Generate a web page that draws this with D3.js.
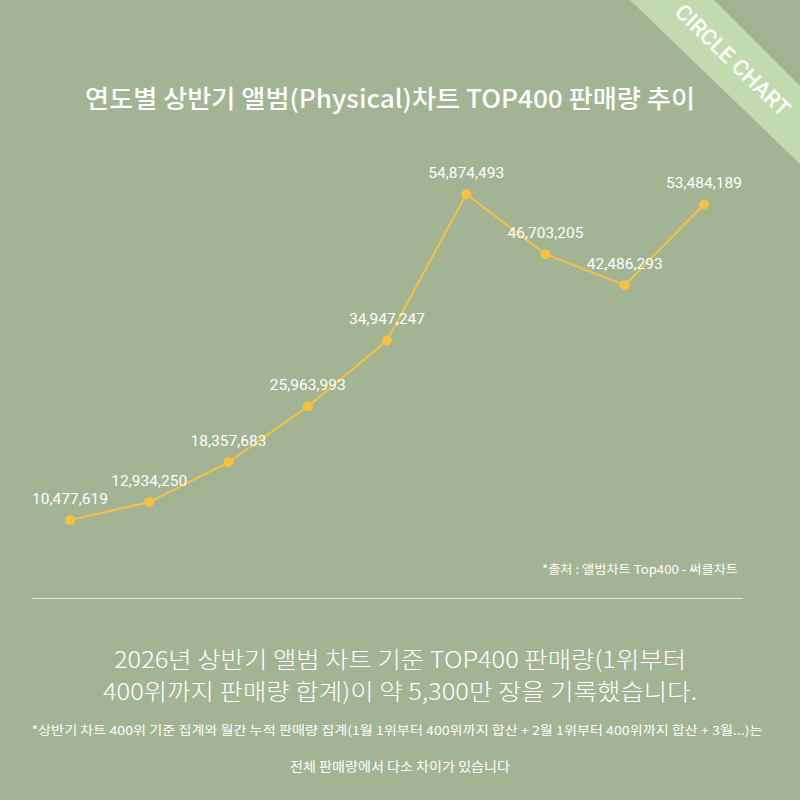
<!DOCTYPE html>
<html>
<head>
<meta charset="utf-8">
<script src="https://cdn.jsdelivr.net/npm/d3@7"></script>
<style>
  html, body { margin: 0; padding: 0; background: #a2b493; }
  svg text { font-family: "Noto Sans CJK KR", "Noto Sans", sans-serif; fill: #ffffff; }
</style>
</head>
<body>
<div id="chart"></div>
<script>
// half-year album chart TOP400 sales, one point per year (no axis labels shown)
var years = ['2018', '2019', '2020', '2021', '2022', '2023', '2024', '2025', '2026'];
var sales = [10477619, 12934250, 18357683, 25963993, 34947247, 54874493, 46703205, 42486293, 53484189];

var titleText = '연도별 상반기 앨범(Physical)차트 TOP400 판매량 추이';
var sourceText = '*출처 : 앨범차트 Top400 - 써클차트';
var summaryLines = ['2026년 상반기 앨범 차트 기준 TOP400 판매량(1위부터', '400위까지 판매량 합계)이 약 5,300만 장을 기록했습니다.'];
var noteLines = ['*상반기 차트 400위 기준 집계와 월간 누적 판매량 집계(1월 1위부터 400위까지 합산 + 2월 1위부터 400위까지 합산 + 3월...)는', '전체 판매량에서 다소 차이가 있습니다'];

var width = 800, height = 800;
var bg = '#a2b493';
var lineColor = '#f6c143';

var svg = d3.select('#chart')
    .append('svg')
    .attr('width', width)
    .attr('height', height)
    .style('background', bg);

// corner ribbon
var ribbon = svg.append('g');
ribbon.append('polygon')
    .attr('points', '630,0 714,0 800,86 800,164')
    .style('fill', '#c2dbae');
ribbon.append('text')
    .attr('transform', 'translate(733,60) rotate(44)')
    .attr('text-anchor', 'middle')
    .attr('dy', '0.36em')
    .attr('textLength', 150)
    .attr('lengthAdjust', 'spacingAndGlyphs')
    .style('font-family', 'Roboto, sans-serif')
    .style('font-size', '22px')
    .style('font-weight', 500)
    .text('CIRCLE CHART');

// title
svg.append('text')
    .attr('x', 390)
    .attr('y', 108)
    .attr('text-anchor', 'middle')
    .attr('textLength', 610)
    .attr('lengthAdjust', 'spacingAndGlyphs')
    .style('font-size', '25px')
    .style('font-weight', 500)
    .text(titleText);

// scales
var x = d3.scalePoint()
    .domain(years)
    .range([70, 704]);

var y = d3.scaleLinear()
    .domain([0, 60000000])
    .range([597, 156.6]);

var line = d3.line()
    .x(function (d, i) { return x(years[i]); })
    .y(function (d) { return y(d); });

svg.append('path')
    .datum(sales)
    .attr('d', line)
    .style('fill', 'none')
    .style('stroke', lineColor)
    .style('stroke-width', 2);

svg.selectAll('.dot')
    .data(sales)
    .enter()
    .append('circle')
    .attr('class', 'dot')
    .attr('cx', function (d, i) { return x(years[i]); })
    .attr('cy', function (d) { return y(d); })
    .attr('r', 5)
    .style('fill', lineColor);

svg.selectAll('.val')
    .data(sales)
    .enter()
    .append('text')
    .attr('class', 'val')
    .attr('x', function (d, i) { return x(years[i]); })
    .attr('y', function (d) { return y(d) - 16; })
    .attr('text-anchor', 'middle')
    .style('font-family', 'Roboto, sans-serif')
    .style('font-size', '15.5px')
    .text(function (d) { return d3.format(',')(d); });

// source + divider
svg.append('text')
    .attr('x', 738)
    .attr('y', 574)
    .attr('text-anchor', 'end')
    .attr('textLength', 196)
    .attr('lengthAdjust', 'spacingAndGlyphs')
    .style('font-size', '12px')
    .text(sourceText);

svg.append('line')
    .attr('x1', 32)
    .attr('x2', 743)
    .attr('y1', 598.5)
    .attr('y2', 598.5)
    .style('stroke', '#e6ecdd')
    .style('stroke-width', 1);

// summary
svg.selectAll('.summary')
    .data(summaryLines)
    .enter()
    .append('text')
    .attr('class', 'summary')
    .attr('x', 400)
    .attr('y', function (d, i) { return 668 + i * 32; })
    .attr('text-anchor', 'middle')
    .attr('textLength', function (d, i) { return i === 0 ? 572 : 594; })
    .attr('lengthAdjust', 'spacingAndGlyphs')
    .style('font-size', '23px')
    .style('font-weight', 300)
    .text(function (d) { return d; });

// footnote
svg.selectAll('.note')
    .data(noteLines)
    .enter()
    .append('text')
    .attr('class', 'note')
    .attr('x', function (d, i) { return i === 0 ? 397 : 400; })
    .attr('y', function (d, i) { return i === 0 ? 735 : 771; })
    .attr('text-anchor', 'middle')
    .attr('textLength', function (d, i) { return i === 0 ? 731 : 220; })
    .attr('lengthAdjust', 'spacingAndGlyphs')
    .style('font-size', function (d, i) { return i === 0 ? '12px' : '13px'; })
    .text(function (d) { return d; });
</script>
</body>
</html>
